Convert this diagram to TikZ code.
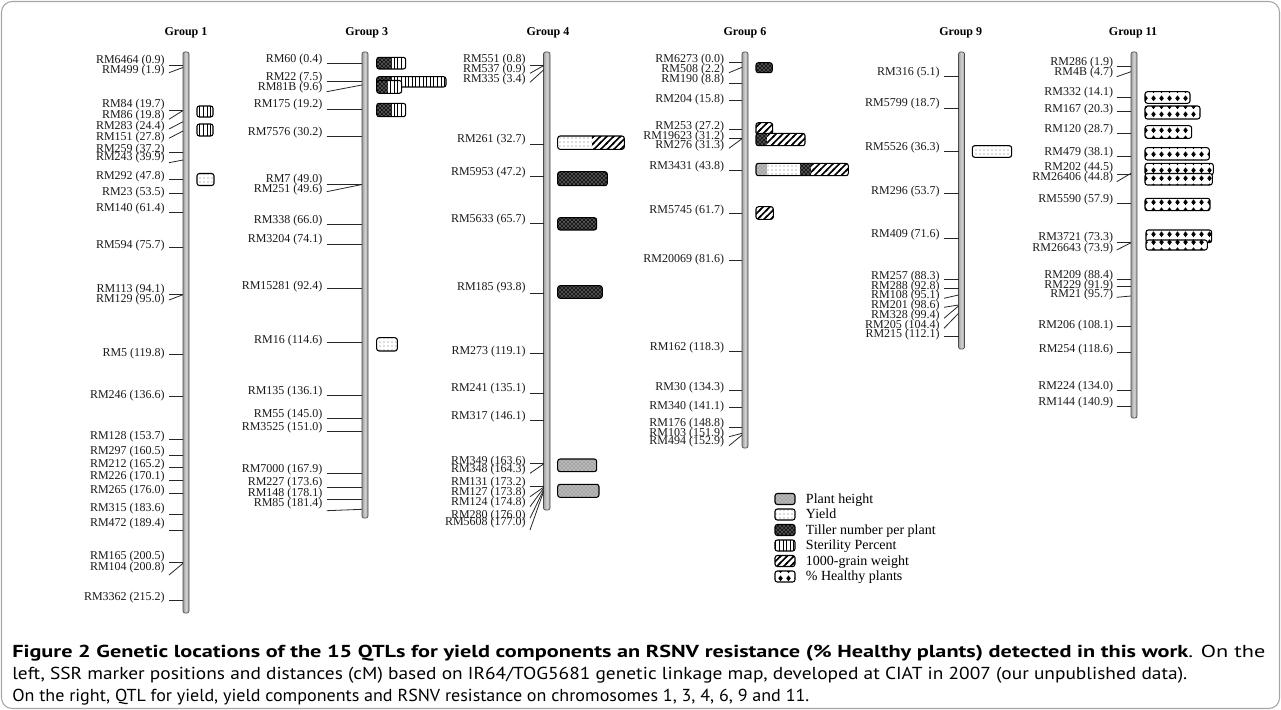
\documentclass[tikz,border=0pt]{standalone}
\usepackage{fontspec}
\setmainfont{Liberation Serif}
\newfontfamily\capfont{PT Sans}
\usepackage{graphicx}
\usetikzlibrary{patterns}
\pgfdeclarepatternformonly{vlinesq}{\pgfqpoint{-1pt}{-1pt}}{\pgfqpoint{3.7pt}{3.7pt}}{\pgfqpoint{2.7pt}{2.7pt}}{\pgfsetlinewidth{0.7pt}\pgfpathmoveto{\pgfqpoint{1.35pt}{-1pt}}\pgfpathlineto{\pgfqpoint{1.35pt}{3.7pt}}\pgfusepath{stroke}}
\pgfdeclarepatternformonly{hatchq}{\pgfqpoint{-1pt}{-1pt}}{\pgfqpoint{6pt}{6pt}}{\pgfqpoint{5pt}{5pt}}{\pgfsetlinewidth{1.2pt}\pgfpathmoveto{\pgfqpoint{-1pt}{-1pt}}\pgfpathlineto{\pgfqpoint{6pt}{6pt}}\pgfusepath{stroke}}
\pgfdeclarepatternformonly{diamq}{\pgfqpoint{0pt}{0pt}}{\pgfqpoint{5.6pt}{6pt}}{\pgfqpoint{5.6pt}{6pt}}{\pgfpathmoveto{\pgfqpoint{2.8pt}{0.7pt}}\pgfpathlineto{\pgfqpoint{4.6pt}{3pt}}\pgfpathlineto{\pgfqpoint{2.8pt}{5.3pt}}\pgfpathlineto{\pgfqpoint{1pt}{3pt}}\pgfpathclose\pgfusepath{fill}}
\newcommand\mkgroup[5]{%
  \foreach \lab/\ty/\ly/\cy [count=\i] in {#5} {%
    \node[lbl] (#1m\i) at (#2,\ty) {\lab};
    \coordinate (#1l\i) at (#3,\ly);
    \coordinate (#1c\i) at (#4,\cy);
    \draw[tick] (#1l\i) -- (#1c\i);
  }}
\newcommand\qbar[5]{%
  \begin{scope}
    \clip[rounded corners=1.8pt] (#1,#2) rectangle (#3,#4);
    \foreach \xa/\xb/\sty in {#5} {\path[\sty] (\xa,#2) rectangle (\xb,#4);}
  \end{scope}
  \draw[qbox] (#1,#2) rectangle (#3,#4);}
\begin{document}
\begin{tikzpicture}[x=0.75pt,y=-0.75pt,
  lbl/.style={anchor=base east, inner sep=0pt, font=\fontsize{9}{10}\selectfont, text=black!90},
  tick/.style={line width=0.6pt, black!85},
  ttl/.style={anchor=base, inner sep=0pt, font=\fontsize{9}{10}\selectfont\bfseries},
  chrom/.style={draw=black!70, line width=0.5pt, rounded corners=1.5pt, left color=gray!75, right color=gray!75, middle color=gray!35},
  qbox/.style={draw=black, line width=0.8pt, rounded corners=1.8pt},
  qph/.style={preaction={fill=gray!55}, pattern=crosshatch dots, pattern color=black!60},
  qyl/.style={preaction={fill=white}, pattern=dots, pattern color=black!55},
  qtl/.style={preaction={fill=black!90}, pattern=crosshatch dots, pattern color=white},
  qst/.style={preaction={fill=white}, pattern=vlinesq, pattern color=black},
  qgw/.style={preaction={fill=white}, pattern=hatchq, pattern color=black},
  qhp/.style={preaction={fill=white}, pattern=diamq, pattern color=black},
  leg/.style={anchor=base west, inner sep=0pt, font=\fontsize{10.5}{12}\selectfont},
  capl/.style={anchor=base west, inner sep=0pt}
]
\useasboundingbox (0,0) rectangle (1281,710);
\draw[gray!70, line width=0.8pt, rounded corners=8pt] (1.5,1.5) rectangle (1279.5,708.5);

% titles
\node[ttl] (t1) at (186,36) {Group 1};
\node[ttl] (t3) at (366.7,36) {Group 3};
\node[ttl] (t4) at (548,36) {Group 4};
\node[ttl] (t6) at (745,36) {Group 6};
\node[ttl] (t9) at (960.7,36) {Group 9};
\node[ttl] (t11) at (1133,36) {Group 11};

% chromosomes
\path[chrom] (183,52) rectangle (189,613);
\path[chrom] (362,52) rectangle (368,518);
\path[chrom] (543.5,52) rectangle (550,510);
\path[chrom] (742,52) rectangle (748,448);
\path[chrom] (958.5,52) rectangle (964.5,349);
\path[chrom] (1131,52) rectangle (1137,418);

% markers
\mkgroup{a}{165}{169}{183}{RM6464 (0.9)/63.3/65/65, RM499 (1.9)/74/72.7/67.5, RM84 (19.7)/108/110/110, RM86 (19.8)/118.3/119.3/110.5, RM283 (24.4)/129/129/121.7, RM151 (27.8)/140/138.3/131, RM259 (37.2)/152.3/152.7/152.7, RM243 (39.9)/160.7/162.7/160, RM292 (47.8)/179/179/179, RM23 (53.5)/195/193.3/193.3, RM140 (61.4)/211.3/212.7/212.7, RM594 (75.7)/248/247.7/247.7, RM113 (94.1)/292.3/294/294, RM129 (95.0)/302.3/300/294.7, RM5 (119.8)/356.3/354.3/354.3, RM246 (136.6)/398/396.7/396.7, RM128 (153.7)/439/439.3/439.3, RM297 (160.5)/454.7/455.3/455.3, RM212 (165.2)/467.3/467.7/467.7, RM226 (170.1)/479/480/480, RM265 (176.0)/493/493.3/493.3, RM315 (183.6)/511.7/514.3/514.3, RM472 (189.4)/526.7/530/530, RM165 (200.5)/559/562.7/562.7, RM104 (200.8)/570.7/575/563.3, RM3362 (215.2)/600.7/600.7/600.7}

\mkgroup{b}{322.7}{326.7}{362}{RM60 (0.4)/62.3/63.3/63.3, RM22 (7.5)/80/81/81, RM81B (9.6)/90.7/91.7/85, RM175 (19.2)/108/109.3/109.3, RM7576 (30.2)/135/136/136, RM7 (49.0)/182.3/184/184, RM251 (49.6)/192.3/191.7/184.5, RM338 (66.0)/223.3/224/224, RM3204 (74.1)/242.3/244/244, RM15281 (92.4)/289/288/288, RM16 (114.6)/343.3/342.3/342.3, RM135 (136.1)/394.7/395.7/395.7, RM55 (145.0)/417.3/418.3/418.3, RM3525 (151.0)/430/431.7/431.7, RM7000 (167.9)/472.3/473.3/473.3, RM227 (173.6)/485.7/487.7/487.7, RM148 (178.1)/496.7/499.3/499.3, RM85 (181.4)/506.7/510.7/509.3}

\mkgroup{c}{526}{530}{543.5}{RM551 (0.8)/62.3/65/65, RM537 (0.9)/72.3/73.3/65.7, RM335 (3.4)/82.3/82.3/70, RM261 (32.7)/142.3/144/144, RM5953 (47.2)/175.7/176.7/176.7, RM5633 (65.7)/222.3/223.3/223.3, RM185 (93.8)/290.7/293.3/293.3, RM273 (119.1)/354/353.3/353.3, RM241 (135.1)/391.3/393.3/393.3, RM317 (146.1)/419/420/420, RM349 (163.6)/464/463.3/463.3, RM348 (164.3)/472.3/473.3/464, RM131 (173.2)/485.7/486.7/486.7, RM127 (173.8)/495.7/496.7/487.3, RM124 (174.8)/505.7/506.7/488.3, RM280 (176.0)/518.3/518.3/490, RM5608 (177.0)/525.7/530/491.7}

\mkgroup{d}{724.3}{729}{742}{RM6273 (0.0)/62.3/62.7/62.7, RM508 (2.2)/73/72.7/67.3, RM190 (8.8)/82.3/83.3/83.3, RM204 (15.8)/102.3/100/100, RM253 (27.2)/129/129.3/129.3, RM19623 (31.2)/139/138.3/138.3, RM276 (31.3)/148/148.3/138.7, RM3431 (43.8)/169.7/170.7/170.7, RM5745 (61.7)/213.3/213.3/213.3, RM20069 (81.6)/262.3/260.7/260.7, RM162 (118.3)/350.7/351.7/351.7, RM30 (134.3)/390.7/390.7/390.7, RM340 (141.1)/409/407.3/407.3, RM176 (148.8)/426.3/427.3/427.3, RM103 (151.9)/436.7/436.7/433.3, RM494 (152.9)/444.7/445.7/435}

\mkgroup{e}{940}{944}{958.5}{RM316 (5.1)/75.7/76.7/76.7, RM5799 (18.7)/106.7/108.3/108.3, RM5526 (36.3)/150/151.7/151.7, RM296 (53.7)/194.7/193.3/193.3, RM409 (71.6)/237.3/238.3/238.3, RM257 (88.3)/279/279/279, RM288 (92.8)/289/288.3/288.3, RM108 (95.1)/298/298.3/295, RM201 (98.6)/308.3/307.3/305, RM328 (99.4)/318/318.3/306, RM205 (104.4)/328/328.3/313.3, RM215 (112.1)/337.3/336.7/336.7}

\mkgroup{f}{1113.3}{1116.7}{1131}{RM286 (1.9)/65.7/66.7/66.7, RM4B (4.7)/75.7/76.7/71.7, RM332 (14.1)/95.7/97.3/97.3, RM167 (20.3)/112.3/111/111, RM120 (28.7)/132.3/133.3/133.3, RM479 (38.1)/155.7/156.7/156.7, RM202 (44.5)/170.7/174/174, RM26406 (44.8)/180.7/181.7/173.3, RM5590 (57.9)/202.3/203.3/203.3, RM3721 (73.3)/240.7/242.7/242.7, RM26643 (73.9)/251.7/250/242.7, RM209 (88.4)/278.3/279.3/279.3, RM229 (91.9)/288.3/286.7/286.7, RM21 (95.7)/297.3/297.3/296, RM206 (108.1)/328/326.7/326.7, RM254 (118.6)/352.3/352.7/352.7, RM224 (134.0)/389/390/390, RM144 (140.9)/405.7/406.7/406.7}

% QTL boxes: group 1
\qbar{197}{106}{213}{117}{197/213/qst}
\qbar{197}{124}{213}{136}{197/213/qst}
\qbar{197}{173.5}{214}{185.5}{197/214/qyl}
% group 3
\qbar{376.7}{57.3}{405.7}{69}{376.7/391.7/qtl, 391.7/405.7/qst}
\qbar{376.7}{76.7}{446}{87}{376.7/391.7/qtl, 391.7/446/qst}
\qbar{376.7}{80.5}{401.7}{93.3}{376.7/388/qtl, 388/401.7/qst}
\qbar{376.7}{103.3}{405.7}{116.7}{376.7/391.7/qtl, 391.7/405.7/qst}
\qbar{376.7}{337.7}{397.3}{351}{376.7/397.3/qyl}
% group 4
\qbar{557.7}{136}{624.3}{149.3}{557.7/592/qyl, 592/624.3/qgw}
\qbar{557.7}{171.7}{607.3}{185.7}{557.7/607.3/qtl}
\qbar{557.7}{217.7}{596.7}{230}{557.7/596.7/qtl}
\qbar{557.7}{285.7}{602.3}{298.3}{557.7/602.3/qtl}
\qbar{557.7}{459}{596.7}{471.7}{557.7/596.7/qph}
\qbar{557.7}{484.3}{599}{497.3}{557.7/599/qph}
% group 6
\qbar{756}{62.7}{772.3}{72.7}{756/772.3/qtl}
\qbar{756}{122.7}{772.7}{135}{756/772.7/qgw}
\qbar{756}{133.3}{805}{145.7}{756/767.3/qtl, 767.3/805/qgw}
\qbar{756}{163.3}{848.3}{175.7}{756/766.7/qph, 766.7/799.7/qyl, 799.7/811/qtl, 811/848.3/qgw}
\qbar{756}{206.7}{773.3}{219.3}{756/773.3/qgw}
% group 9
\qbar{972.3}{145.7}{1011.7}{157.3}{972.3/1011.7/qyl}
% group 11
\qbar{1145}{91.7}{1190}{103.3}{1145/1190/qhp}
\qbar{1145}{106}{1200}{119}{1145/1200/qhp}
\qbar{1145}{125.7}{1191.7}{138.3}{1145/1191.7/qhp}
\qbar{1145}{147.7}{1209.3}{160}{1145/1209.3/qhp}
\qbar{1145}{163.3}{1213.3}{175}{1145/1213.3/qhp}
\qbar{1145}{173.5}{1212.3}{185}{1145/1212.3/qhp}
\qbar{1145}{198.3}{1210}{210.7}{1145/1210/qhp}
\qbar{1146}{230}{1211.7}{242.7}{1146/1211.7/qhp}
\qbar{1146}{240}{1207.3}{250}{1146/1207.3/qhp}

% legend
\qbar{775}{493.5}{795}{504.5}{775/795/qph}
\qbar{775}{509}{795}{520}{775/795/qyl}
\qbar{775}{524.5}{795}{535.5}{775/795/qtl}
\qbar{775}{540}{795}{551}{775/795/qst}
\qbar{775}{555.5}{795}{566.5}{775/795/qgw}
\qbar{775}{571}{795}{582}{775/795/qhp}
\node[leg] (l1) at (805.7,503) {Plant height};
\node[leg] (l2) at (805.7,518.5) {Yield};
\node[leg] (l3) at (805.7,534) {Tiller number per plant};
\node[leg] (l4) at (805.7,549.5) {Sterility Percent};
\node[leg] (l5) at (805.7,565) {1000-grain weight};
\node[leg] (l6) at (805.7,580.5) {\% Healthy plants};

% caption
\node[capl] (c1) at (12,657) {\resizebox{939.75pt}{\height}{\capfont\fontsize{13}{15}\selectfont\bfseries Figure 2 Genetic locations of the 15 QTLs for yield components an RSNV resistance (\% Healthy plants) detected in this work\mdseries. On the}};
\node[capl] (c2) at (12,679) {\resizebox{881.25pt}{\height}{\capfont\fontsize{13}{15}\selectfont left, SSR marker positions and distances (cM) based on IR64/TOG5681 genetic linkage map, developed at CIAT in 2007 (our unpublished data).}};
\node[capl] (c3) at (12,701) {\resizebox{597.75pt}{\height}{\capfont\fontsize{13}{15}\selectfont On the right, QTL for yield, yield components and RSNV resistance on chromosomes 1, 3, 4, 6, 9 and 11.}};
\end{tikzpicture}
\end{document}
